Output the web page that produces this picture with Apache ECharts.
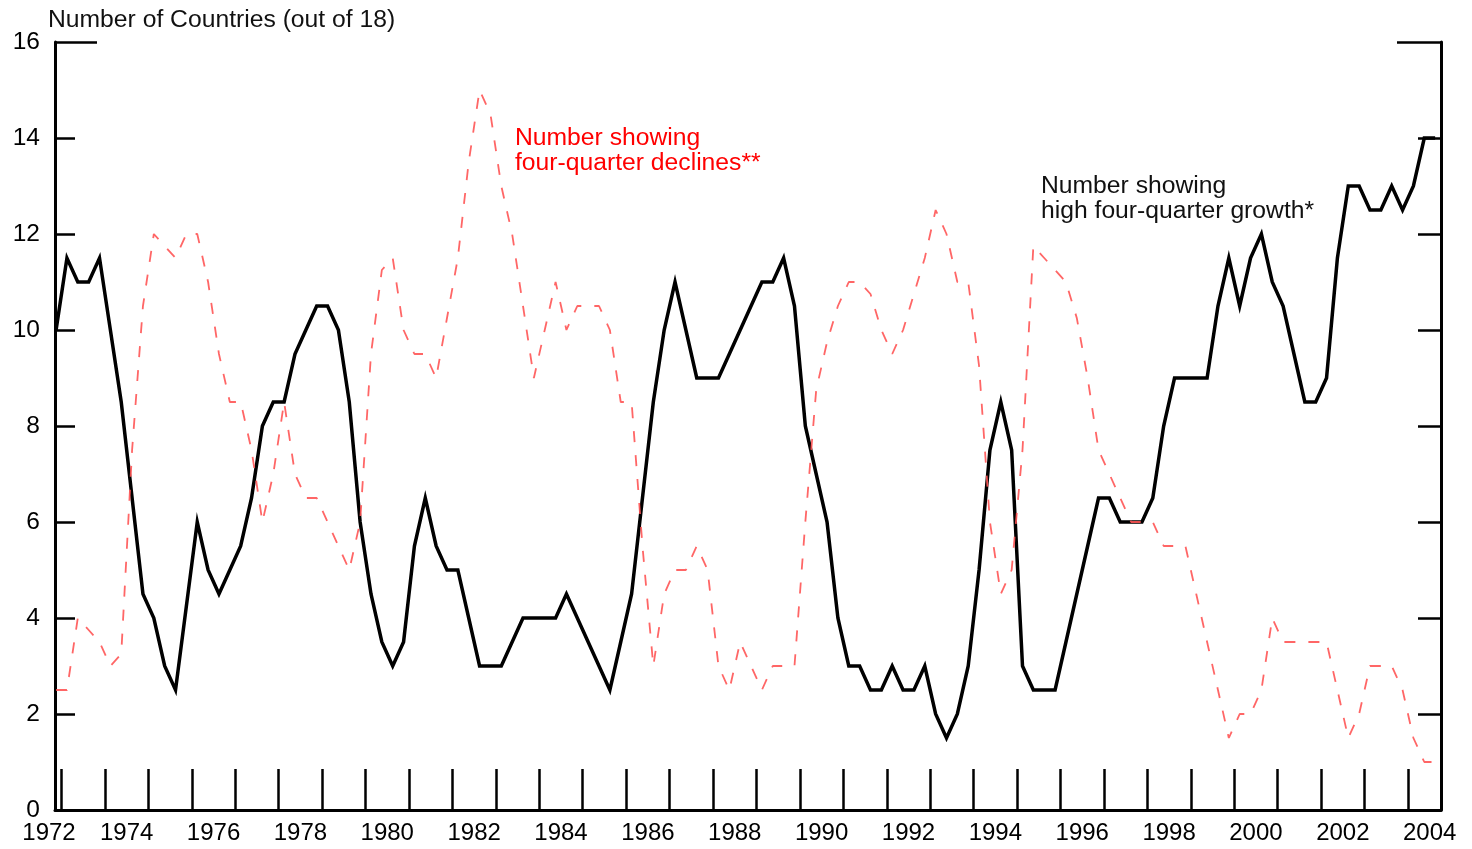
<!DOCTYPE html>
<html><head><meta charset="utf-8">
<script src="https://cdn.jsdelivr.net/npm/echarts@6/dist/echarts.min.js"></script>
<style>html,body{margin:0;padding:0;background:#fff}#c{width:1472px;height:849px}</style>
</head><body><div id="c"></div>
<script>
// Quarterly series, first point = 1972 Q4
const startYear = 1972;
const startQuarter = 4;

// Number of countries showing high four-quarter growth
const growth = [
  10, 11.5, 11, 11, 11.5, 10, 8.5, 6.5, 4.5, 4, 3, 2.5, 4.25, 6, 5, 4.5,
  5, 5.5, 6.5, 8, 8.5, 8.5, 9.5, 10, 10.5, 10.5, 10, 8.5, 6, 4.5, 3.5, 3,
  3.5, 5.5, 6.5, 5.5, 5, 5, 4, 3, 3, 3, 3.5, 4, 4, 4, 4, 4.5,
  4, 3.5, 3, 2.5, 3.5, 4.5, 6.5, 8.5, 10, 11, 10, 9, 9, 9, 9.5, 10,
  10.5, 11, 11, 11.5, 10.5, 8, 7, 6, 4, 3, 3, 2.5, 2.5, 3, 2.5, 2.5,
  3, 2, 1.5, 2, 3, 5, 7.5, 8.5, 7.5, 3, 2.5, 2.5, 2.5, 3.5, 4.5, 5.5,
  6.5, 6.5, 6, 6, 6, 6.5, 8, 9, 9, 9, 9, 10.5, 11.5, 10.5, 11.5, 12,
  11, 10.5, 9.5, 8.5, 8.5, 9, 11.5, 13, 13, 12.5, 12.5, 13, 12.5, 13, 14, 14
];

// Number of countries showing four-quarter declines
const declines = [
  2.5, 2.5, 4, 3.75, 3.5, 3, 3.25, 7.5, 10.5, 12, 11.75, 11.5, 12, 12, 11, 9.5,
  8.5, 8.5, 7.5, 6, 7, 8.5, 7, 6.5, 6.5, 6, 5.5, 5, 6, 9.5, 11.25, 11.5,
  10, 9.5, 9.5, 9, 10.25, 11.5, 13.5, 15, 14.5, 13, 12, 10.5, 9, 10, 11, 10,
  10.5, 10.5, 10.5, 10, 8.5, 8.5, 5.5, 3, 4.5, 5, 5, 5.5, 5, 3, 2.5, 3.5,
  3, 2.5, 3, 3, 3, 6, 8.75, 9.75, 10.5, 11, 11, 10.75, 10, 9.5, 10, 10.75,
  11.5, 12.5, 12, 11, 11, 9.25, 6, 4.5, 5, 7.5, 11.75, 11.5, 11.25, 11, 10.25, 9,
  7.5, 7, 6.5, 6, 6, 6, 5.5, 5.5, 5.5, 4.5, 3.5, 2.5, 1.5, 2, 2, 2.5,
  4, 3.5, 3.5, 3.5, 3.5, 3.5, 2.5, 1.5, 2, 3, 3, 3, 2.5, 1.5, 1, 1
];

const yTicks = [0, 2, 4, 6, 8, 10, 12, 14, 16];
const yearLabels = ['1972','1974','1976','1978','1980','1982','1984','1986','1988',
                    '1990','1992','1994','1996','1998','2000','2002','2004'];
const firstTickYear = 1973, lastTickYear = 2004;

const FONT = '"Liberation Sans", Arial, Helvetica, sans-serif';
const xMin = 1972.85, xMax = 2004.76;

function quarterPos(i) { return startYear + (startQuarter - 1 + i + 0.5) / 4; }
const growthData = growth.map((v, i) => [quarterPos(i), v]);
const declineData = declines.map((v, i) => [quarterPos(i), v]);

const tickYears = [];
for (let y = firstTickYear; y <= lastTickYear; y++) tickYears.push(y);
const labelValues = yearLabels.map((l, k) => k === 0 ? xMin : Number(l) + 0.5);

const chart = echarts.init(document.getElementById('c'), null, { renderer: 'canvas' });
const axisColor = '#000';
const TXT = 24.7;
chart.setOption({
  animation: false,
  backgroundColor: '#fff',
  grid: { left: 55, right: 31, top: 42, bottom: 39, containLabel: false },
  xAxis: {
    type: 'value', min: xMin, max: xMax,
    axisLine: { show: true, lineStyle: { color: axisColor, width: 3 } },
    axisTick: { show: true, inside: true, length: 41, customValues: tickYears,
                lineStyle: { color: axisColor, width: 2.5 } },
    axisLabel: {
      customValues: labelValues, margin: 11, fontSize: 24, fontFamily: FONT, color: '#000',
      formatter: v => { const y = Math.floor(v + 1e-6); return y === Number(yearLabels[0]) ? '{first|' + y + '}' : String(y); },
      rich: { first: { padding: [0, 12, 0, 0], fontSize: 24, fontFamily: FONT, color: '#000' } }
    },
    splitLine: { show: false }
  },
  yAxis: [
    { type: 'value', position: 'left', min: yTicks[0], max: yTicks[yTicks.length - 1], interval: 2,
      axisLine: { show: true, lineStyle: { color: axisColor, width: 3 } },
      axisTick: { show: true, inside: true, length: 20, lineStyle: { color: axisColor, width: 2.5 } },
      axisLabel: { margin: 15, fontSize: 24.5, fontFamily: FONT, color: '#000' },
      splitLine: { show: false } },
    { type: 'value', position: 'right', min: yTicks[0], max: yTicks[yTicks.length - 1], interval: 2,
      axisLine: { show: true, lineStyle: { color: axisColor, width: 3 } },
      axisTick: { show: true, inside: true, length: 23, lineStyle: { color: axisColor, width: 2.5 } },
      axisLabel: { show: false }, splitLine: { show: false } },
    { type: 'value', position: 'left', min: yTicks[0], max: yTicks[yTicks.length - 1],
      axisLine: { show: false },
      axisTick: { show: true, inside: true, length: 42, customValues: [yTicks[yTicks.length - 1]],
                  lineStyle: { color: axisColor, width: 2.5 } },
      axisLabel: { show: false }, splitLine: { show: false } },
    { type: 'value', position: 'right', min: yTicks[0], max: yTicks[yTicks.length - 1],
      axisLine: { show: false },
      axisTick: { show: true, inside: true, length: 44, customValues: [yTicks[yTicks.length - 1]],
                  lineStyle: { color: axisColor, width: 2.5 } },
      axisLabel: { show: false }, splitLine: { show: false } }
  ],
  series: [
    { name: 'Number showing high four-quarter growth*', type: 'line', data: growthData,
      showSymbol: false, symbol: 'none', z: 2,
      lineStyle: { color: '#000', width: 3.5, join: 'miter' } },
    { name: 'Number showing four-quarter declines**', type: 'line', data: declineData,
      showSymbol: false, symbol: 'none', z: 3,
      lineStyle: { color: '#ff5555', width: 1.8, type: [11, 13], opacity: 0.9 } }
  ],
  graphic: [
    { type: 'text', left: 48, top: 8,
      style: { text: 'Number of Countries (out of 18)', fill: '#111', fontSize: TXT, fontFamily: FONT } },
    { type: 'text', left: 515, top: 126,
      style: { text: 'Number showing\nfour-quarter declines**', fill: '#ff0000', fontSize: TXT, fontFamily: FONT, lineHeight: 25 } },
    { type: 'text', left: 1041, top: 174,
      style: { text: 'Number showing\nhigh four-quarter growth*', fill: '#111', fontSize: TXT, fontFamily: FONT, lineHeight: 25 } }
  ]
});
</script>
</body></html>
